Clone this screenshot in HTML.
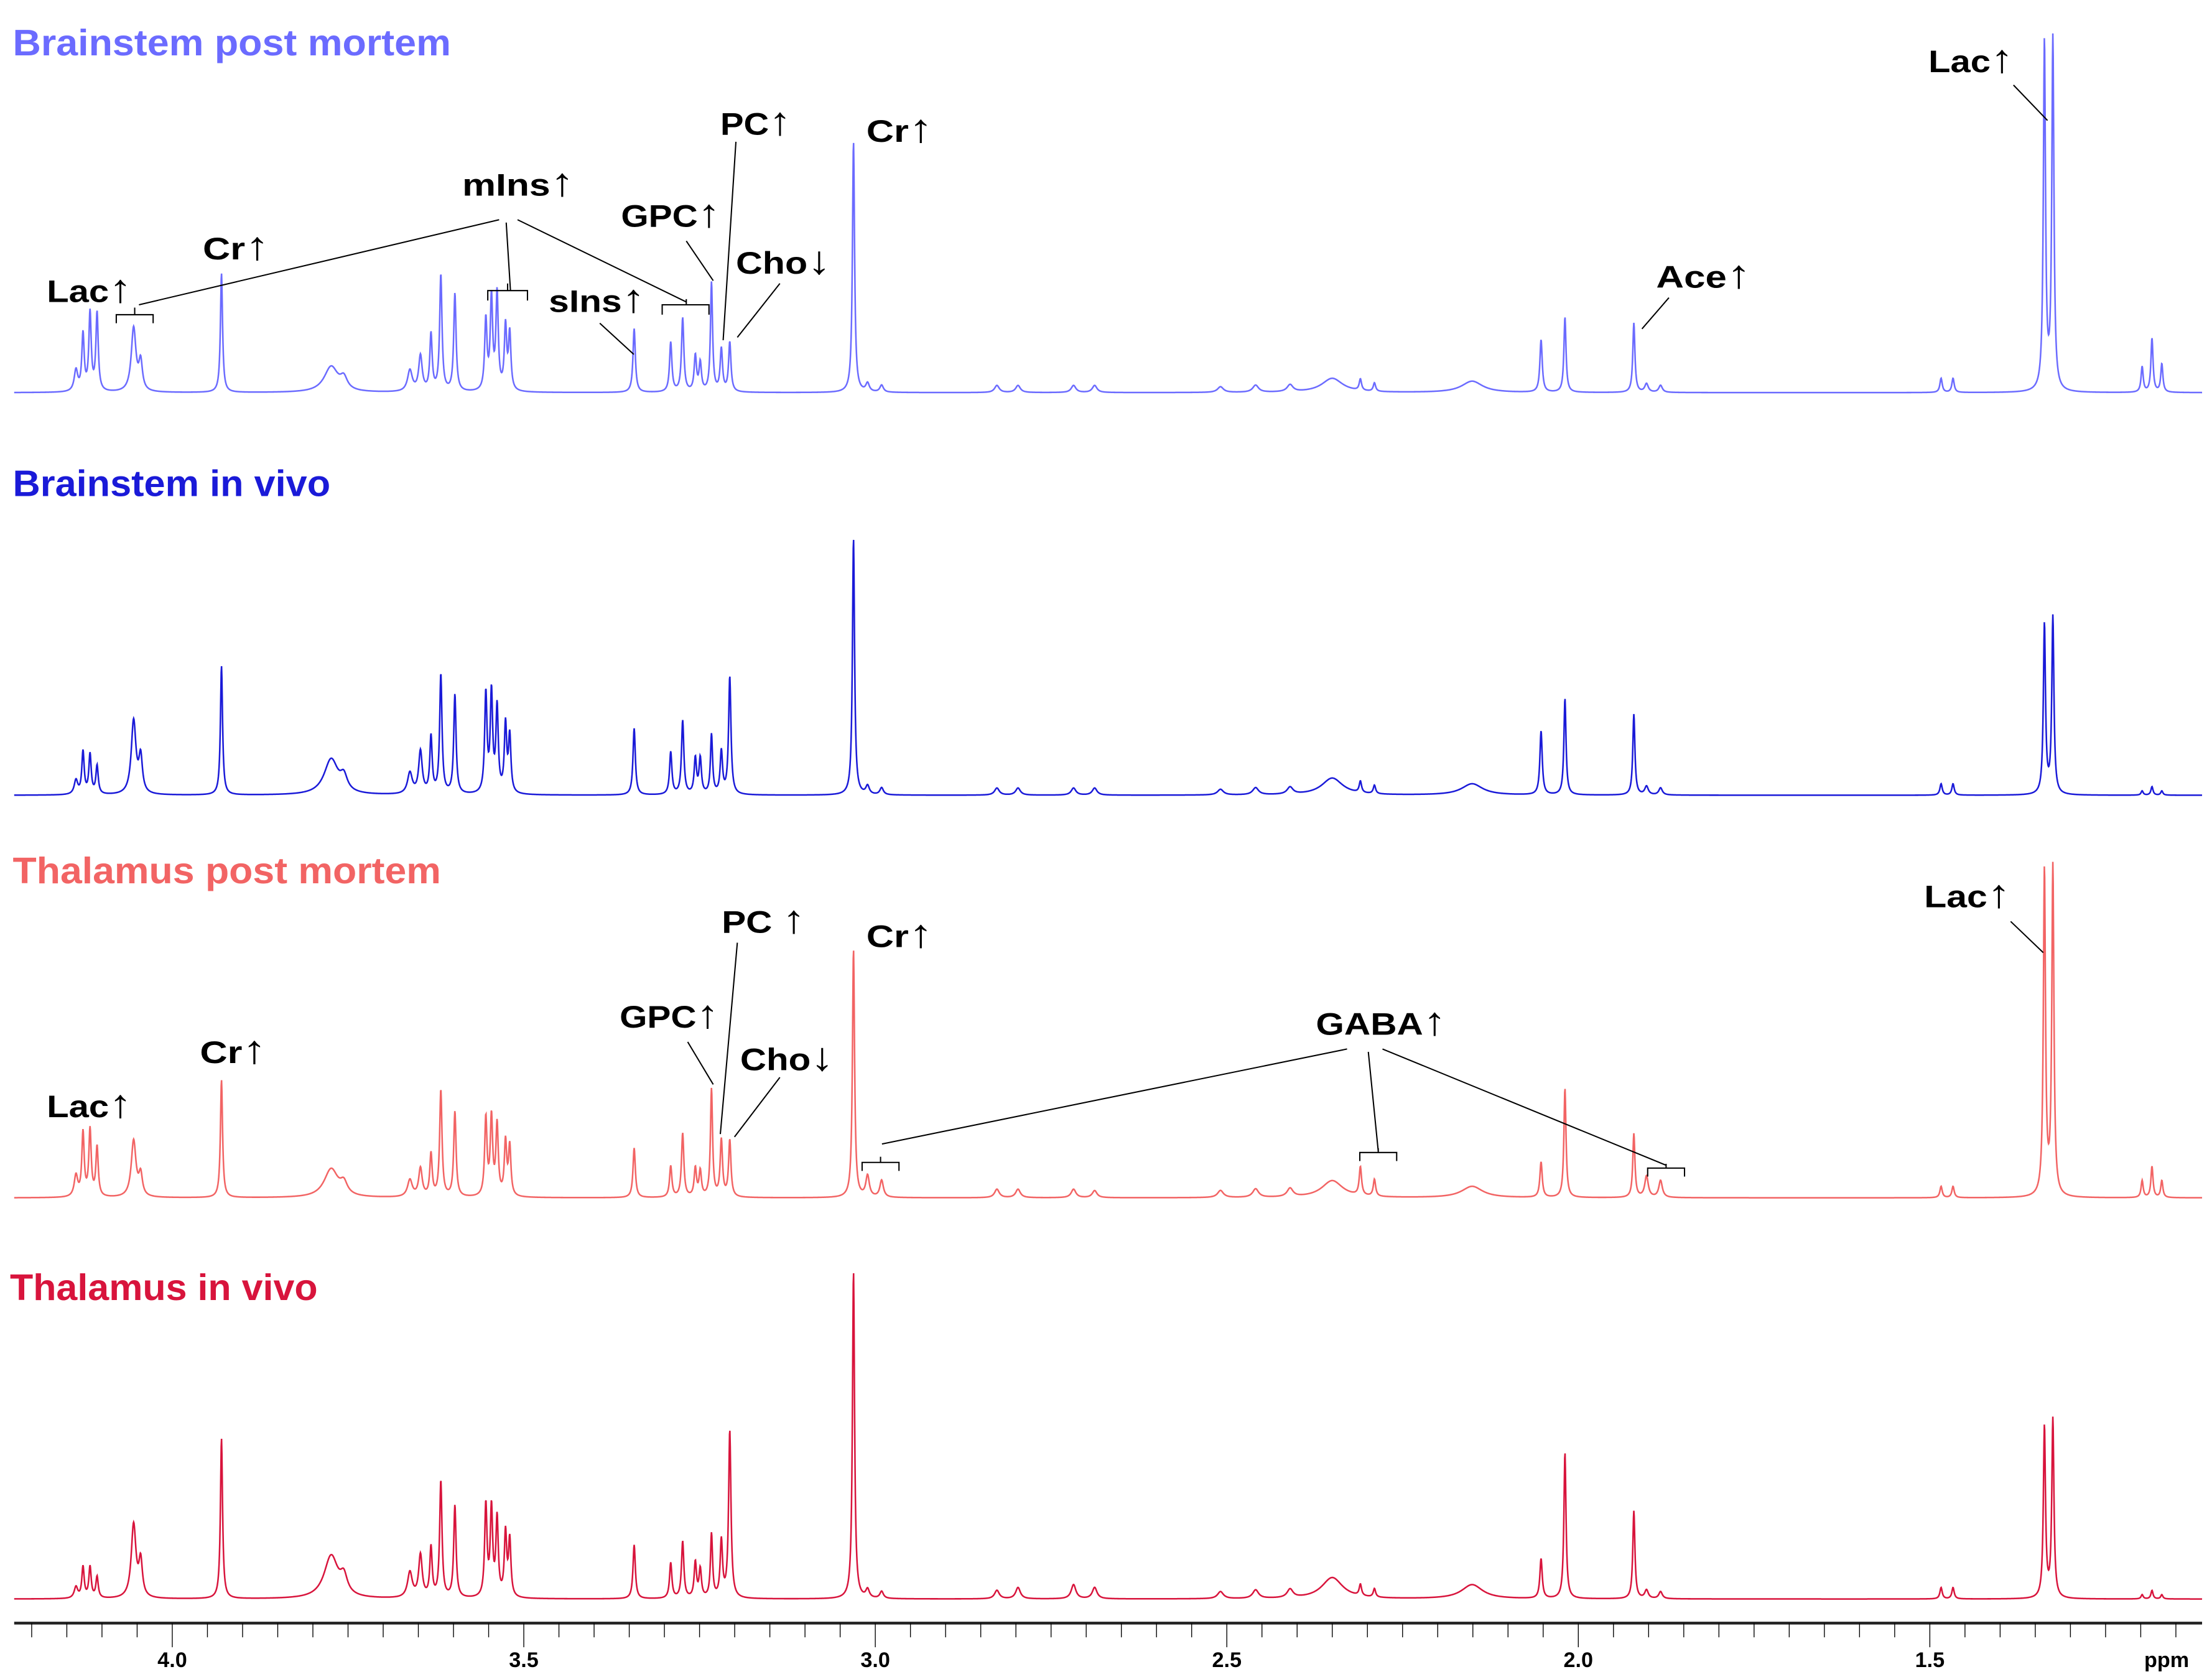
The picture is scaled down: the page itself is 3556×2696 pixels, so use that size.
<!DOCTYPE html>
<html><head><meta charset="utf-8"><title>NMR spectra</title>
<style>html,body{margin:0;padding:0;background:#fff;}svg{display:block;}
text{font-family:"Liberation Sans","DejaVu Sans",sans-serif;font-weight:bold;}</style></head>
<body>
<svg id="chart" width="3556" height="2696" viewBox="0 0 1560 1183" preserveAspectRatio="none" xmlns="http://www.w3.org/2000/svg">
<rect width="1560" height="1183" fill="#fff"/>
<g id="series"></g>
<g id="axis"></g>
<g>
<text x="9" y="39" font-size="26" fill="#6b6bff" textLength="309" lengthAdjust="spacingAndGlyphs">Brainstem post mortem</text>
<text x="9" y="350" font-size="26" fill="#1a1ad8" textLength="224" lengthAdjust="spacingAndGlyphs">Brainstem in vivo</text>
<text x="9" y="623" font-size="26" fill="#f26464" textLength="302" lengthAdjust="spacingAndGlyphs">Thalamus post mortem</text>
<text x="7" y="917" font-size="26" fill="#d8143c" textLength="217" lengthAdjust="spacingAndGlyphs">Thalamus in vivo</text>
</g>
<g font-size="22" fill="#000">
<text x="33" y="213" textLength="60" lengthAdjust="spacingAndGlyphs">Lac<tspan font-size="28">↑</tspan></text>
<text x="143" y="183" textLength="47" lengthAdjust="spacingAndGlyphs">Cr<tspan font-size="28">↑</tspan></text>
<text x="326" y="138" textLength="79" lengthAdjust="spacingAndGlyphs">mIns<tspan font-size="28">↑</tspan></text>
<text x="387" y="220" textLength="68" lengthAdjust="spacingAndGlyphs">sIns<tspan font-size="28">↑</tspan></text>
<text x="438" y="160" textLength="70" lengthAdjust="spacingAndGlyphs">GPC<tspan font-size="28">↑</tspan></text>
<text x="508" y="95" textLength="50" lengthAdjust="spacingAndGlyphs">PC<tspan font-size="28">↑</tspan></text>
<text x="519" y="193" textLength="67" lengthAdjust="spacingAndGlyphs">Cho<tspan font-size="28">↓</tspan></text>
<text x="611" y="100" textLength="47" lengthAdjust="spacingAndGlyphs">Cr<tspan font-size="28">↑</tspan></text>
<text x="1168" y="203" textLength="67" lengthAdjust="spacingAndGlyphs">Ace<tspan font-size="28">↑</tspan></text>
<text x="1360" y="51" textLength="60" lengthAdjust="spacingAndGlyphs">Lac<tspan font-size="28">↑</tspan></text>
<text x="33" y="788" textLength="60" lengthAdjust="spacingAndGlyphs">Lac<tspan font-size="28">↑</tspan></text>
<text x="141" y="750" textLength="47" lengthAdjust="spacingAndGlyphs">Cr<tspan font-size="28">↑</tspan></text>
<text x="437" y="725" textLength="70" lengthAdjust="spacingAndGlyphs">GPC<tspan font-size="28">↑</tspan></text>
<text x="509" y="658" textLength="59" lengthAdjust="spacingAndGlyphs">PC <tspan font-size="28">↑</tspan></text>
<text x="522" y="755" textLength="66" lengthAdjust="spacingAndGlyphs">Cho<tspan font-size="28">↓</tspan></text>
<text x="611" y="668" textLength="47" lengthAdjust="spacingAndGlyphs">Cr<tspan font-size="28">↑</tspan></text>
<text x="928" y="730" textLength="92" lengthAdjust="spacingAndGlyphs">GABA<tspan font-size="28">↑</tspan></text>
<text x="1357" y="640" textLength="61" lengthAdjust="spacingAndGlyphs">Lac<tspan font-size="28">↑</tspan></text>
</g>
<g stroke="#000" stroke-width="0.9" fill="none">
<path d="M352 155 L98 215 M357 157 L360 205 M365 155 L484 213"/>
<path d="M82 228 V222 H108 V228 M95 222 V217"/>
<path d="M344 212 V205 H372 V212 M358 205 V200"/>
<path d="M467 222 V215 H500 V222 M484 215 V211"/>
<path d="M423 228 L447 250 M484 170 L503 198 M519 100 L510 240 M550 200 L520 238 M1177 210 L1158 232 M1420 60 L1444 85"/>
<path d="M485 735 L503 765 M520 665 L508 800 M550 760 L518 802 M1418 650 L1441 672"/>
<path d="M950 740 L622 807 M965 742 L972 812 M975 740 L1175 822"/>
<path d="M608 826 V820 H634 V826 M621 820 V816"/>
<path d="M959 819 V813 H985 V819 M972 813 V810"/>
<path d="M1162 830 V824 H1188 V830 M1175 824 V821"/>
</g>
</svg>
<script>
const ppm = [4.137,4.127,4.117,4.107,4.055,4.045,3.930,3.774,3.756,3.662,3.647,3.632,3.618,3.598,3.554,3.546,3.538,3.526,3.520,3.343,3.291,3.274,3.256,3.249,3.233,3.219,3.207,3.031,3.011,2.991,2.827,2.797,2.718,2.688,2.509,2.459,2.410,2.350,2.310,2.290,2.151,2.053,2.019,1.921,1.903,1.883,1.484,1.467,1.337,1.325,1.198,1.184,1.170];
const widths = [.003,.002,.002,.002,.004,.003,.0018,.012,.006,.004,.003,.002,.002,.002,.002,.002,.002,.002,.002,.002,.002,.002,.002,.002,.0018,.002,.002,.0018,.003,.003,.004,.004,.004,.004,.005,.005,.005,.018,.002,.002,.018,.002,.0018,.0018,.003,.003,.002,.002,.0018,.0018,.0018,.0018,.0018];
const brainstemPostMortem = [15,40,55,55,45,20,84,18,8,15,25,40,82,69,50,65,68,45,40,45,35,52,25,20,77,30,35,177,6,5,5,5,5,5,4,5,5,10,8,6,8,37,53,49,6,5,10,10,246,248,18,38,20];
const brainstemInVivo = [10,30,28,20,52,25,91,25,10,15,30,40,84,70,70,70,60,48,40,47,30,52,25,25,42,30,83,181,6,5,5,5,5,5,4,5,5,12,8,6,8,45,68,57,6,5,8,8,120,125,3,6,3];
const thalamusPostMortem = [15,45,47,35,40,15,83,20,8,12,20,30,75,60,55,55,50,38,35,35,22,45,20,18,76,40,40,175,15,12,6,6,6,5,5,6,6,12,20,12,8,25,77,45,15,12,8,8,230,232,12,22,12];
const thalamusInVivo = [8,22,22,15,52,25,113,30,12,18,30,35,82,65,65,62,55,45,40,38,25,40,25,20,45,40,118,231,6,5,6,8,10,8,5,6,6,15,8,6,10,28,103,62,6,5,8,8,121,126,3,6,3];
const seriesNames = ['brainstem-post-mortem','brainstem-in-vivo','thalamus-post-mortem','thalamus-in-vivo'];
const tickLabels = ['4.0','3.5','3.0','2.5','2.0','1.5'];

const NS='http://www.w3.org/2000/svg';
const X0=10, X1=1553;
function xScale(p){return 121.5+(4.0-p)*495.8;}
function invX(x){return 4.0-(x-121.5)/495.8;}
function yScale(v,base){return base-v;}
const bases=[277,561,845,1128];
const colors=['#6b6bff','#1a1ad8','#f26464','#d8143c'];
const allSeries=[brainstemPostMortem,brainstemInVivo,thalamusPostMortem,thalamusInVivo];
const g=document.getElementById('series');
allSeries.forEach((h,si)=>{
  let d='';
  for(let x=X0;x<=X1;x+=0.25){
    const p=invX(x);let v=0;
    for(let k=0;k<ppm.length;k++){const w=widths[k];const dx=p-ppm[k];v+=h[k]*w*w/(dx*dx+w*w);}
    d+=(d?'L':'M')+x.toFixed(2)+' '+yScale(v,bases[si]).toFixed(2);
  }
  const path=document.createElementNS(NS,'path');
  path.setAttribute('d',d);path.setAttribute('fill','none');
  path.setAttribute('stroke',colors[si]);path.setAttribute('stroke-width','1.1');
  
  
  g.appendChild(path);
});
const ax=document.getElementById('axis');
function mk(tag,attrs){const e=document.createElementNS(NS,tag);for(const k in attrs)e.setAttribute(k,attrs[k]);ax.appendChild(e);return e;}
const line=mk('line',{x1:X0,x2:X1,y1:1145,y2:1145,stroke:'#222','stroke-width':2});


for(let i=0;i<=62;i++){
  const p=4.2-i*0.05;const x=xScale(p);if(x<X0-1||x>X1+1)continue;
  const major=Math.abs(p*2-Math.round(p*2))<1e-6;
  const t=mk('line',{x1:x,x2:x,y1:1145,y2:major?1162:1155,stroke:'#000','stroke-width':0.6});
  
  
}
tickLabels.forEach(l=>{
  const t=mk('text',{x:xScale(parseFloat(l)),y:1176,'text-anchor':'middle','font-size':15});
  t.textContent=l;
  
  
});
const u=mk('text',{x:1528,y:1176,'text-anchor':'middle','font-size':15});
u.textContent='ppm';


</script>
</body></html>
